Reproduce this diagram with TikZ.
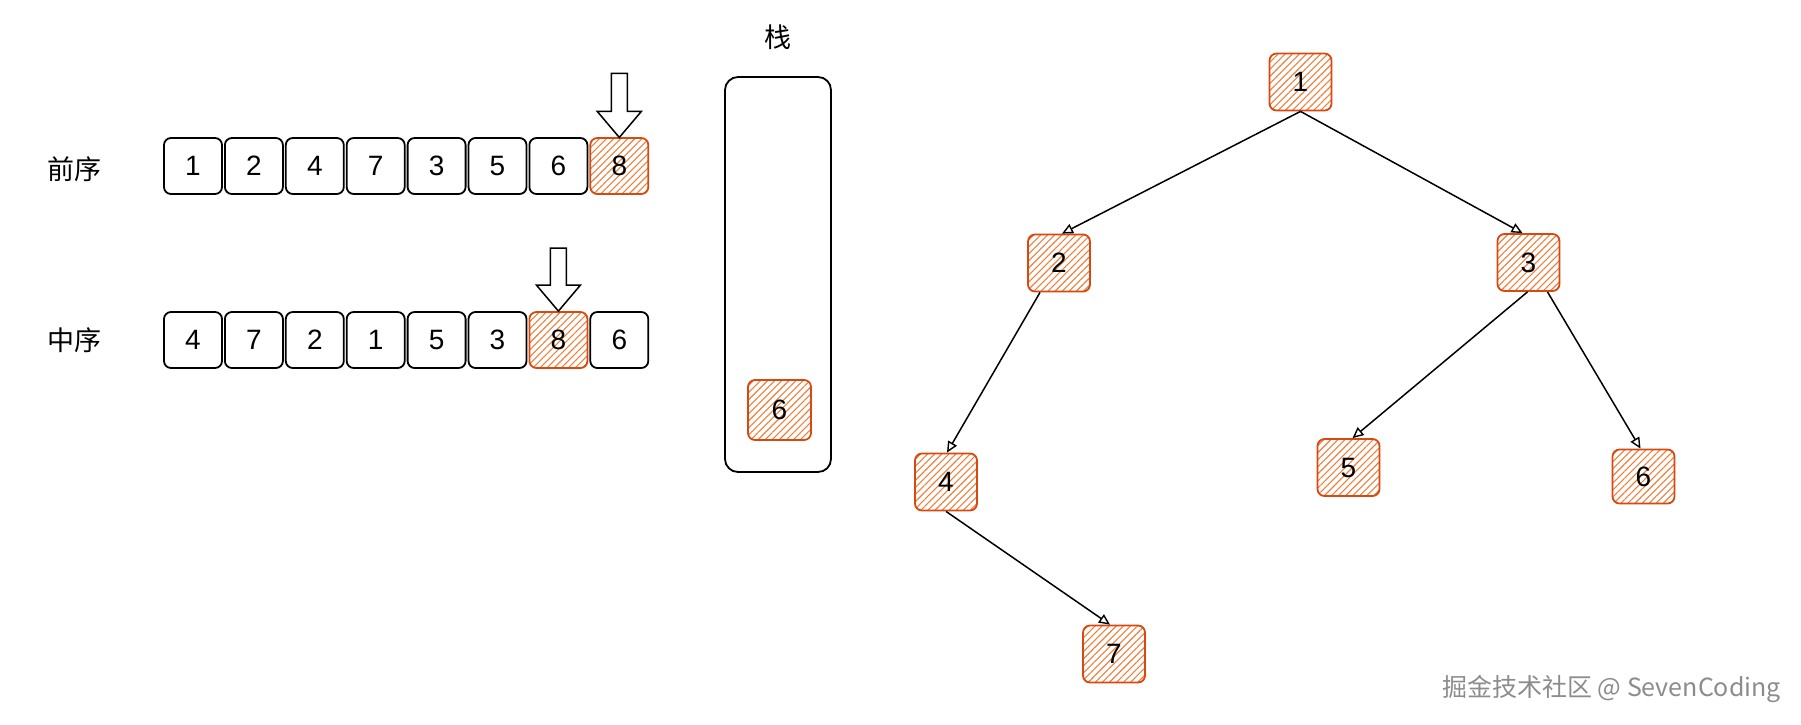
\documentclass[tikz,border=0pt]{standalone}
\usepackage{fontspec}
\setmainfont{Liberation Sans}
\newfontfamily\cjk{Noto Sans CJK SC}
\usetikzlibrary{arrows.meta,patterns.meta,calc}
\definecolor{hot}{HTML}{D9480F}
\definecolor{hatch}{HTML}{EE7F3B}
\definecolor{wm}{HTML}{8C8C8C}
\tikzset{
  cell/.style={draw=black,line width=1.8pt,rounded corners=7pt,minimum width=58pt,minimum height=56pt,inner sep=0pt,font=\fontsize{28}{28}\selectfont},
  hotcell/.style={cell,draw=hot,pattern={Lines[angle=45,distance=5pt,line width=1.1pt]},pattern color=hatch},
  treenode/.style={hotcell,minimum width=62pt,minimum height=57pt},
  lab/.style={font=\cjk\fontsize{27}{27}\selectfont},
  edge/.style={line width=1.5pt,-{Triangle[open,length=11pt,width=10pt,line width=1.4pt]}},
  blockarrow/.style={draw=black,line width=1.5pt,fill=white,line join=miter},
  stackbox/.style={draw=black,line width=1.8pt,rounded corners=13pt}
}
\begin{document}
\begin{tikzpicture}[x=1pt,y=-1pt]
\useasboundingbox (0,0) rectangle (1801,724);
% labels
\node[lab] (pre) at (74,169) {前序};
\node[lab] (mid) at (74,340) {中序};
\node[lab] (stk) at (778,37) {栈};
% preorder row
\foreach \v [count=\i] in {1,2,4,7,3,5,6} {
  \node[cell] (p\i) at ({193+60.9*(\i-1)},166) {\v};
}
\node[hotcell] (p8) at ({193+60.9*7},166) {8};
% inorder row
\foreach \v [count=\i] in {4,7,2,1,5,3} {
  \node[cell] (m\i) at ({193+60.9*(\i-1)},340) {\v};
}
\node[hotcell] (m7) at ({193+60.9*6},340) {8};
\node[cell] (m8) at ({193+60.9*7},340) {6};
% block arrows
\draw[blockarrow] (p8.north) -- ++(22,-26) -- ++(-14,0) -- ++(0,-38) -- ++(-16,0) -- ++(0,38) -- ++(-14,0) -- cycle;
\draw[blockarrow] (m7.north) -- ++(22,-26) -- ++(-14,0) -- ++(0,-37) -- ++(-16,0) -- ++(0,37) -- ++(-14,0) -- cycle;
% stack
\node[stackbox,minimum width=106pt,minimum height=395pt] (stack) at (778,274.5) {};
\node[hotcell,minimum width=63pt,minimum height=60pt] (s6) at (779.5,410) {6};
% tree
\node[treenode] (n1) at (1300.5,82) {1};
\node[treenode] (n2) at (1059,263) {2};
\node[treenode] (n3) at (1528.5,262.5) {3};
\node[treenode] (n4) at (946,482) {4};
\node[treenode] (n5) at (1348.5,467.5) {5};
\node[treenode,minimum height=54pt] (n6) at (1643.5,476.5) {6};
\node[treenode] (n7) at (1114,654) {7};
\draw[edge] (n1.south) -- ([xshift=3pt]n2.north);
\draw[edge] (n1.south) -- ([xshift=-6pt]n3.north);
\draw[edge] ([xshift=-19pt]n2.south) -- ([xshift=1pt]n4.north);
\draw[edge] ([xshift=-1pt]n3.south) -- ([xshift=4pt]n5.north);
\draw[edge] ([xshift=19pt]n3.south) -- ([xshift=-3pt]n6.north);
\draw[edge] (n4.south) -- ([xshift=-4pt]n7.north);
% watermark
\node[font=\cjk\fontsize{25}{25}\selectfont,text=wm,anchor=east,inner sep=0pt] (wmk) at (1781,689) {掘金技术社区 @ SevenCoding};
\end{tikzpicture}
\end{document}
